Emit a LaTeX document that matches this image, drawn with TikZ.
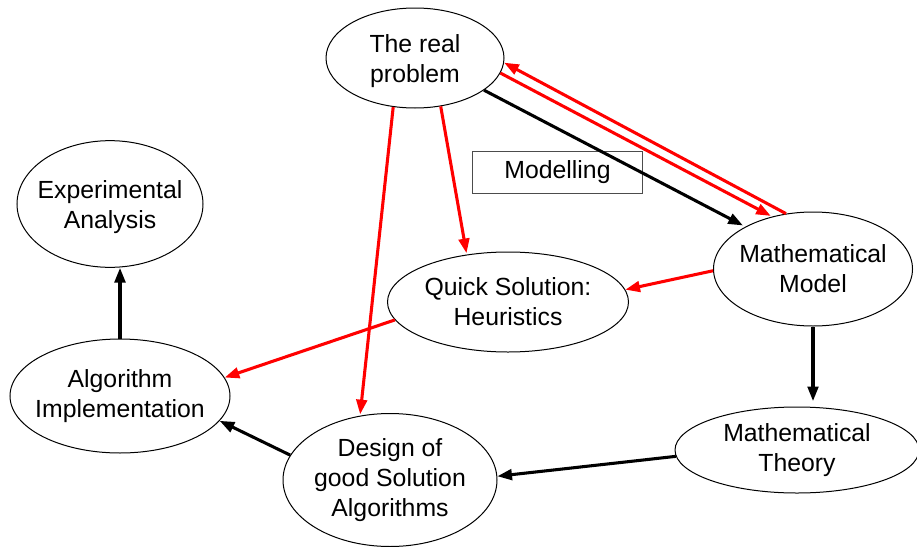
\documentclass[tikz,border=0pt]{standalone}
\usepackage{fontspec}
\setmainfont{Liberation Sans}
\usetikzlibrary{shapes.geometric,arrows.meta}

\tikzset{
  ell/.style={ellipse, draw, line width=0.75pt, inner sep=0pt},
  every label/.style={align=center, inner sep=0pt, font=\fontsize{18.6}{22.5}\selectfont},
  blackarrow/.style={line width=2.3pt, -{Triangle[length=11pt,width=8pt]}},
  redarrow/.style={line width=2.3pt, draw={rgb,255:red,255;green,0;blue,0},
    -{Triangle[length=11pt,width=8pt]}},
}

\begin{document}
\begin{tikzpicture}[x=0.75pt,y=0.75pt,yscale=-1,xscale=1]
\useasboundingbox (0,0) rectangle (917,546);

%Shape: Ellipse [id:real]
\node [ell, minimum width=133.5pt, minimum height=75pt, label={[yshift=-2pt]center:{The real\\problem}}] (real) at (415,58) {};
%Shape: Ellipse [id:exp]
\node [ell, minimum width=139.5pt, minimum height=95pt, label={[yshift=-2pt]center:{Experimental\\Analysis}}] (exp) at (110,204) {};
%Shape: Ellipse [id:quick]
\node [ell, minimum width=180.75pt, minimum height=75pt, label={center:{Quick Solution:\\Heuristics}}] (quick) at (508,302) {};
%Shape: Ellipse [id:impl]
\node [ell, minimum width=165pt, minimum height=85.5pt, label={center:{Algorithm\\Implementation}}] (impl) at (120,396) {};
%Shape: Ellipse [id:design]
\node [ell, minimum width=160.5pt, minimum height=99.75pt, label={center:{Design of\\good Solution\\Algorithms}}] (design) at (390,480) {};
%Shape: Ellipse [id:model]
\node [ell, minimum width=149.25pt, minimum height=85.5pt, label={center:{Mathematical\\Model}}] (model) at (813,269) {};
%Shape: Ellipse [id:theory]
\node [ell, minimum width=183pt, minimum height=64.5pt, label={center:{Mathematical\\Theory}}] (theory) at (797,450) {};

% Text Node
\node [draw=black!70, line width=0.6pt, minimum width=128pt, minimum height=31.5pt, inner sep=0pt,
  font=\fontsize{18.6}{22}\selectfont] (modelling) at (557.5,172) {Modelling};

%Straight Lines
\draw [blackarrow, shorten >=2pt] (real.-25) -- (model.148);
\draw [redarrow, shorten >=1pt] (real.-10) -- (model.128);
\draw [redarrow] (model.116) -- (real.-3);
\draw [redarrow, shorten >=1pt] (real.-114) -- (design.115);
\draw [redarrow, shorten >=1pt] (real.-62) -- (quick.131);
\draw [redarrow] (model.181) -- (quick.6);
\draw [redarrow] (quick.189) -- (impl.10);
\draw [blackarrow, shorten >=4pt] (model.south) -- (model.south |- theory.north);
\draw [blackarrow] (theory.183) -- (design.2);
\draw [blackarrow] (design.166) -- (impl.-14);
\draw [blackarrow] (impl.north) -- (impl.north |- exp.south);
\end{tikzpicture}
\end{document}
